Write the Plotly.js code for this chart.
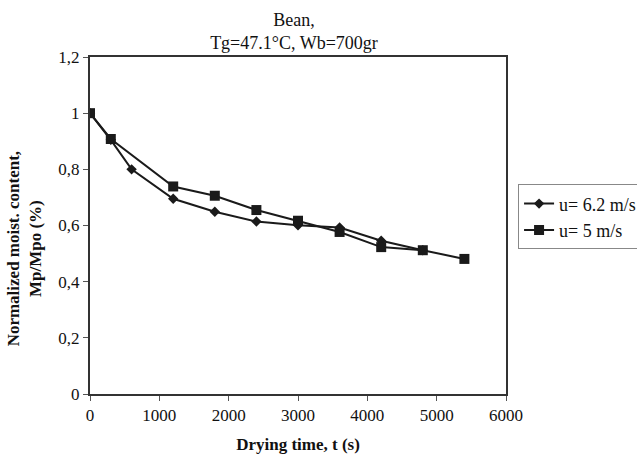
<!DOCTYPE html>
<html>
<head>
<meta charset="utf-8">
<script src="https://cdn.plot.ly/plotly-3.0.1.min.js"></script>
<style>body{margin:0;padding:0;background:#fff;}#chart{width:637px;height:465px;}</style>
</head>
<body>
<div id="chart"></div>
<script>
const timeA = [0, 300, 600, 1200, 1800, 2400, 3000, 3600, 4200, 4800];
const moistA = [1.0, 0.905, 0.80, 0.695, 0.649, 0.614, 0.601, 0.593, 0.546, 0.512];
const timeB = [0, 300, 1200, 1800, 2400, 3000, 3600, 4200, 4800, 5400];
const moistB = [1.0, 0.908, 0.739, 0.706, 0.655, 0.617, 0.577, 0.523, 0.512, 0.481];
const seriesNames = ["u= 6.2 m/s", "u= 5 m/s"];
const titleText = "Bean,<br>Tg=47.1°C, Wb=700gr";
const xTitle = "Drying time, t (s)";
const yTitle = "Normalized moist. content,<br>Mp/Mpo (%)";

const serif = "Liberation Serif, Times New Roman, serif";
const dark = "#1a1a1a";

const traces = [
  {x: timeA, y: moistA, name: seriesNames[0], type: "scatter", mode: "lines+markers",
   line: {color: dark, width: 2}, marker: {symbol: "diamond", size: 8, color: dark}},
  {x: timeB, y: moistB, name: seriesNames[1], type: "scatter", mode: "lines+markers",
   line: {color: dark, width: 2}, marker: {symbol: "square", size: 10, color: dark}}
];

const layout = {
  width: 637, height: 465,
  margin: {l: 90, r: 131, t: 57, b: 71, autoexpand: false},
  paper_bgcolor: "#fff", plot_bgcolor: "#fff",
  separators: ", ",
  font: {family: serif, size: 17, color: "#111"},
  title: {text: titleText, font: {family: serif, size: 18, color: "#111"},
          xref: "container", yref: "container",
          x: 0.4615, xanchor: "center", y: 0.944, yanchor: "middle"},
  showlegend: true,
  legend: {x: 1.029, xanchor: "left", y: 0.622, yanchor: "top",
           bordercolor: "#888", borderwidth: 1, bgcolor: "#fff",
           font: {family: serif, size: 18, color: "#111"}, tracegroupgap: 0},
  xaxis: {range: [0, 6000], dtick: 1000, tick0: 0, showgrid: false, zeroline: false,
          showline: true, linecolor: "#333", linewidth: 2, mirror: true,
          ticks: "outside", ticklen: 5, tickcolor: "#555", tickwidth: 1,
          tickfont: {family: serif, size: 17, color: "#111"},
          title: {text: xTitle, font: {family: serif, size: 17, color: "#111", weight: "bold"}, standoff: 14}},
  yaxis: {range: [0, 1.2], dtick: 0.2, tick0: 0, showgrid: false, zeroline: false,
          showline: true, linecolor: "#333", linewidth: 2, mirror: true,
          ticks: "outside", ticklen: 5, tickcolor: "#555", tickwidth: 1,
          tickfont: {family: serif, size: 17, color: "#111"}},
  annotations: [
    {text: yTitle, xref: "paper", yref: "paper", x: -0.158, y: 0.43,
     xanchor: "center", yanchor: "middle", textangle: -90, showarrow: false,
     font: {family: serif, size: 17, color: "#111", weight: "bold"}}
  ]
};

Plotly.newPlot("chart", traces, layout, {displayModeBar: false, staticPlot: true});
</script>
</body>
</html>
